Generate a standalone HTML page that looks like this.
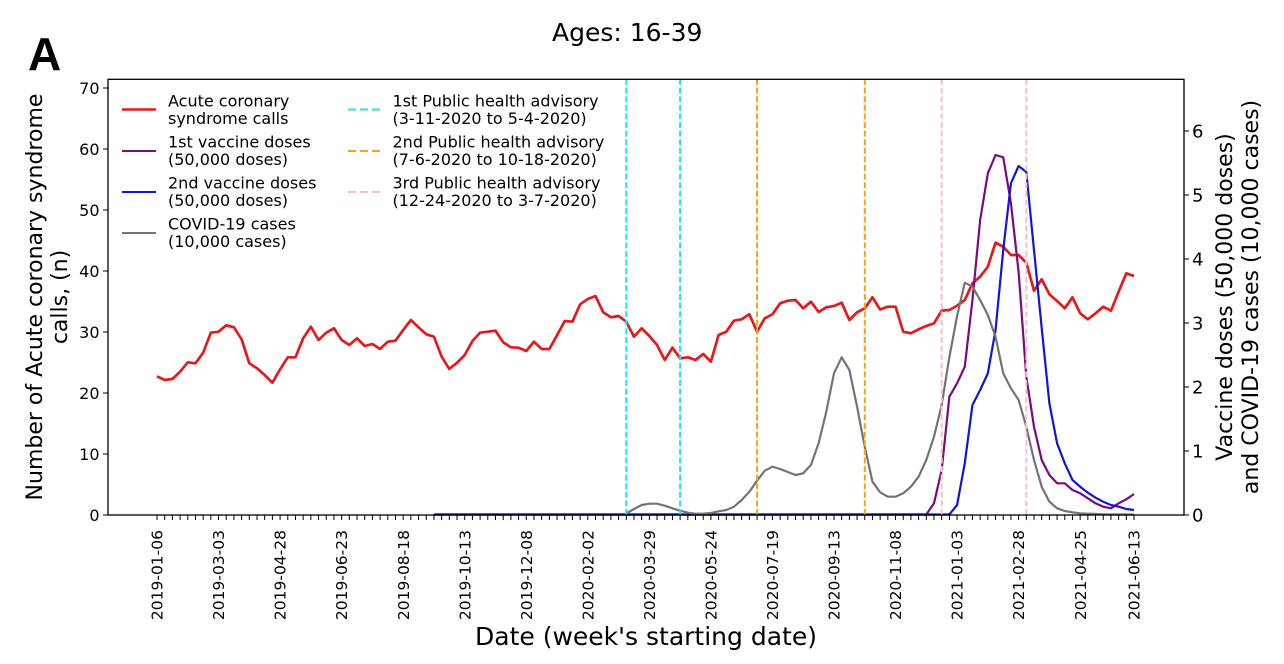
<!DOCTYPE html>
<html>
<head>
<meta charset="utf-8">
<style>
html,body{margin:0;padding:0;background:#fff;width:1284px;height:664px;overflow:hidden}
svg{display:block}
text{font-family:"DejaVu Sans","Liberation Sans",sans-serif;fill:#000}
.nss{vector-effect:non-scaling-stroke}
</style>
</head>
<body>
<svg width="1284" height="664" viewBox="0 0 1284 664" xmlns="http://www.w3.org/2000/svg">
<rect x="0" y="0" width="1284" height="664" fill="#fff"/>

<!-- Panel letter and title -->
<text x="28" y="70" style="font-family:'Liberation Sans',sans-serif;font-weight:bold;font-size:46px">A</text>
<text x="552" y="41" style="font-size:25px">Ages: 16-39</text>

<!-- Data series (week-indexed) -->
<g transform="translate(157,0) scale(7.693,1)" fill="none" stroke-linejoin="round" stroke-linecap="butt">
  <polyline class="nss" stroke="#e31a1c" stroke-width="2.7" points="0,376.3 1,380 2,379 3,371.7 4,362.3 5,363.3 6,352.7 7,332.7 8,331.7 9,325.3 10,327.3 11,339.3 12,363.3 13,368.3 14,375 15,382.7 16,369.3 17,357.3 18,357.3 19,338.3 20,326.7 21,340 22,332.7 23,328.3 24,340 25,345 26,338.3 27,346 28,344 29,349 30,341.7 31,340.7 32,330 33,320 34,327.3 35,334.3 36,336.7 37,356.7 38,369 39,362.7 40,355 41,341 42,332.7 43,331.7 44,330.7 45,342.3 46,347.3 47,347.7 48,351 49,341.7 50,349 51,349 52,335.3 53,321 54,321.7 55,304.3 56,299 57,296 58,312.3 59,317.3 60,316 61,321.7 62,336.7 63,328.3 64,336 65,345 66,360 67,347.7 68,358.3 69,357.3 70,360 71,354 72,361.7 73,335 74,331.7 75,320.7 76,319.3 77,314.3 78,331.7 79,318.3 80,314.3 81,303.3 82,300.7 83,300 84,308.3 85,301.7 86,312 87,307.3 88,306 89,302.7 90,320 91,312.3 92,308.3 93,297.3 94,309.5 95,306.7 96,306.7 97,331.7 98,333.3 99,329.3 100,326 101,323.3 102,310.7 103,310 104,305.7 105,300 106,283.3 107,276.7 108,266.7 109,242.7 110,246.7 111,255 112,255 113,262.7 114,290.7 115,279.3 116,294.3 117,301 118,308.3 119,297.3 120,313.3 121,319.3 122,313.3 123,306.7 124,310.7 125,291.7 126,273.3 127,276"/>
  <polyline class="nss" stroke="#7a0a7a" stroke-width="2.2" points="36,514.5 100,514.5 101,503.3 102,470 103,396.7 104,383.3 105,366.7 106,300 107,220 108,173.3 109,155 110,157.3 111,203 112,272 113,376.7 114,426.7 115,460 116,475 117,483.3 118,483.3 119,490 120,493.3 121,498.3 122,503.3 123,506.7 124,508.3 125,503.3 126,499.3 127,494"/>
  <polyline class="nss" stroke="#1414d6" stroke-width="2.2" points="36,514.5 103,514.5 104,505 105,463.3 106,405 107,390 108,373.3 109,330 110,250 111,183.3 112,166 113,172 114,250 115,328 116,403.3 117,443.3 118,463.3 119,480 120,486.7 121,492.7 122,497.7 123,501.7 124,505 125,506.7 126,509 127,510"/>
  <polyline class="nss" stroke="#737373" stroke-width="2.2" points="61,513.5 62,509 63,505 64,503.7 65,503.7 66,505.7 67,508.3 68,510.7 69,512.7 70,513.7 71,513.7 72,513 73,511.3 74,510 75,506.7 76,500 77,491.7 78,480.7 79,470.7 80,466.7 81,469 82,472 83,475 84,473.3 85,465 86,443.3 87,411.7 88,373.3 89,357.3 90,370 91,406.7 92,446.7 93,481.7 94,492.3 95,496.7 96,496.7 97,493.3 98,486.7 99,476.7 100,460 101,436.7 102,405 103,357 104,316 105,282.7 106,286.7 107,300 108,315 109,336.7 110,373.3 111,388.3 112,400 113,426.7 114,460 115,486.7 116,501.7 117,508.3 118,511 119,512.3 120,513.3 121,513.7 122,514 123,514.3 124,514.5 125,514.5 126,514.5 127,514.5"/>
  <!-- weekly x ticks -->
  <path class="nss" stroke="#000" stroke-width="1" d="M0 515v5M1 515v5M2 515v5M3 515v5M4 515v5M5 515v5M6 515v5M7 515v5M8 515v5M9 515v5M10 515v5M11 515v5M12 515v5M13 515v5M14 515v5M15 515v5M16 515v5M17 515v5M18 515v5M19 515v5M20 515v5M21 515v5M22 515v5M23 515v5M24 515v5M25 515v5M26 515v5M27 515v5M28 515v5M29 515v5M30 515v5M31 515v5M32 515v5M33 515v5M34 515v5M35 515v5M36 515v5M37 515v5M38 515v5M39 515v5M40 515v5M41 515v5M42 515v5M43 515v5M44 515v5M45 515v5M46 515v5M47 515v5M48 515v5M49 515v5M50 515v5M51 515v5M52 515v5M53 515v5M54 515v5M55 515v5M56 515v5M57 515v5M58 515v5M59 515v5M60 515v5M61 515v5M62 515v5M63 515v5M64 515v5M65 515v5M66 515v5M67 515v5M68 515v5M69 515v5M70 515v5M71 515v5M72 515v5M73 515v5M74 515v5M75 515v5M76 515v5M77 515v5M78 515v5M79 515v5M80 515v5M81 515v5M82 515v5M83 515v5M84 515v5M85 515v5M86 515v5M87 515v5M88 515v5M89 515v5M90 515v5M91 515v5M92 515v5M93 515v5M94 515v5M95 515v5M96 515v5M97 515v5M98 515v5M99 515v5M100 515v5M101 515v5M102 515v5M103 515v5M104 515v5M105 515v5M106 515v5M107 515v5M108 515v5M109 515v5M110 515v5M111 515v5M112 515v5M113 515v5M114 515v5M115 515v5M116 515v5M117 515v5M118 515v5M119 515v5M120 515v5M121 515v5M122 515v5M123 515v5M124 515v5M125 515v5M126 515v5M127 515v5"/>
</g>

<!-- Vertical advisory lines -->
<g fill="none" stroke-width="2" stroke-dasharray="6 2.6">
  <line x1="626.3" y1="515" x2="626.3" y2="79.5" stroke="#22e3ec"/>
  <line x1="680.1" y1="515" x2="680.1" y2="79.5" stroke="#22e3ec"/>
  <line x1="757.1" y1="515" x2="757.1" y2="79.5" stroke="#f5a316"/>
  <line x1="864.8" y1="515" x2="864.8" y2="79.5" stroke="#f5a316"/>
  <line x1="941.7" y1="515" x2="941.7" y2="79.5" stroke="#f6c0ca"/>
  <line x1="1026.3" y1="515" x2="1026.3" y2="79.5" stroke="#f6c0ca"/>
</g>

<!-- Axes frame -->
<rect x="108" y="79.3" width="1076" height="435.7" fill="none" stroke="#000" stroke-width="1.3"/>

<!-- Left y ticks -->
<g stroke="#000" stroke-width="1">
  <line x1="103" y1="515" x2="108" y2="515"/>
  <line x1="103" y1="454" x2="108" y2="454"/>
  <line x1="103" y1="393" x2="108" y2="393"/>
  <line x1="103" y1="332" x2="108" y2="332"/>
  <line x1="103" y1="271" x2="108" y2="271"/>
  <line x1="103" y1="210" x2="108" y2="210"/>
  <line x1="103" y1="149" x2="108" y2="149"/>
  <line x1="103" y1="88" x2="108" y2="88"/>
</g>
<g style="font-size:16px" text-anchor="end">
  <text x="99.5" y="520.8">0</text>
  <text x="99.5" y="459.8">10</text>
  <text x="99.5" y="398.8">20</text>
  <text x="99.5" y="337.8">30</text>
  <text x="99.5" y="276.8">40</text>
  <text x="99.5" y="215.8">50</text>
  <text x="99.5" y="154.8">60</text>
  <text x="99.5" y="93.8">70</text>
</g>

<!-- Right y ticks -->
<g stroke="#000" stroke-width="1">
  <line x1="1184" y1="515" x2="1189" y2="515"/>
  <line x1="1184" y1="451" x2="1189" y2="451"/>
  <line x1="1184" y1="387" x2="1189" y2="387"/>
  <line x1="1184" y1="323" x2="1189" y2="323"/>
  <line x1="1184" y1="259" x2="1189" y2="259"/>
  <line x1="1184" y1="195" x2="1189" y2="195"/>
  <line x1="1184" y1="131" x2="1189" y2="131"/>
</g>
<g style="font-size:18px">
  <text x="1192" y="521.5">0</text>
  <text x="1192" y="457.5">1</text>
  <text x="1192" y="393.5">2</text>
  <text x="1192" y="329.5">3</text>
  <text x="1192" y="265.5">4</text>
  <text x="1192" y="201.5">5</text>
  <text x="1192" y="137.5">6</text>
</g>

<!-- X tick labels -->
<g style="font-size:15.5px" text-anchor="end">
  <text transform="translate(157,530) rotate(-90)" dy="0.36em">2019-01-06</text>
  <text transform="translate(218.5,530) rotate(-90)" dy="0.36em">2019-03-03</text>
  <text transform="translate(280.1,530) rotate(-90)" dy="0.36em">2019-04-28</text>
  <text transform="translate(341.6,530) rotate(-90)" dy="0.36em">2019-06-23</text>
  <text transform="translate(403.2,530) rotate(-90)" dy="0.36em">2019-08-18</text>
  <text transform="translate(464.7,530) rotate(-90)" dy="0.36em">2019-10-13</text>
  <text transform="translate(526.3,530) rotate(-90)" dy="0.36em">2019-12-08</text>
  <text transform="translate(587.8,530) rotate(-90)" dy="0.36em">2020-02-02</text>
  <text transform="translate(649.4,530) rotate(-90)" dy="0.36em">2020-03-29</text>
  <text transform="translate(710.9,530) rotate(-90)" dy="0.36em">2020-05-24</text>
  <text transform="translate(772.4,530) rotate(-90)" dy="0.36em">2020-07-19</text>
  <text transform="translate(834,530) rotate(-90)" dy="0.36em">2020-09-13</text>
  <text transform="translate(895.5,530) rotate(-90)" dy="0.36em">2020-11-08</text>
  <text transform="translate(957.1,530) rotate(-90)" dy="0.36em">2021-01-03</text>
  <text transform="translate(1018.6,530) rotate(-90)" dy="0.36em">2021-02-28</text>
  <text transform="translate(1080.2,530) rotate(-90)" dy="0.36em">2021-04-25</text>
  <text transform="translate(1134,530) rotate(-90)" dy="0.36em">2021-06-13</text>
</g>

<!-- Axis labels -->
<text x="646" y="645" text-anchor="middle" style="font-size:25px">Date (week's starting date)</text>
<g style="font-size:22px" text-anchor="middle">
  <text transform="translate(42,297) rotate(-90)">Number of Acute coronary syndrome</text>
  <text transform="translate(67,297) rotate(-90)">calls, (n)</text>
  <text transform="translate(1232,297) rotate(-90)">Vaccine doses (50,000 doses)</text>
  <text transform="translate(1258,297) rotate(-90)">and COVID-19 cases (10,000 cases)</text>
</g>

<!-- Legend -->
<g fill="none">
  <line x1="122" y1="109.5" x2="156" y2="109.5" stroke="#e31a1c" stroke-width="2.5"/>
  <line x1="122" y1="151" x2="156" y2="151" stroke="#7a0a7a" stroke-width="2"/>
  <line x1="122" y1="192" x2="156" y2="192" stroke="#1414d6" stroke-width="2"/>
  <line x1="122" y1="233" x2="156" y2="233" stroke="#737373" stroke-width="2"/>
  <line x1="348" y1="109.5" x2="382" y2="109.5" stroke="#22e3ec" stroke-width="2" stroke-dasharray="8 4"/>
  <line x1="348" y1="151" x2="382" y2="151" stroke="#f5a316" stroke-width="2" stroke-dasharray="8 4"/>
  <line x1="348" y1="192" x2="382" y2="192" stroke="#f6c0ca" stroke-width="2" stroke-dasharray="8 4"/>
</g>
<g style="font-size:16px">
  <text x="168" y="106.5">Acute coronary</text>
  <text x="168" y="124">syndrome calls</text>
  <text x="168" y="147.5">1st vaccine doses</text>
  <text x="168" y="165">(50,000 doses)</text>
  <text x="168" y="188.5">2nd vaccine doses</text>
  <text x="168" y="206">(50,000 doses)</text>
  <text x="168" y="229.5">COVID-19 cases</text>
  <text x="168" y="247">(10,000 cases)</text>
  <text x="392.5" y="106.5">1st Public health advisory</text>
  <text x="392.5" y="124">(3-11-2020 to 5-4-2020)</text>
  <text x="392.5" y="147.5">2nd Public health advisory</text>
  <text x="392.5" y="165">(7-6-2020 to 10-18-2020)</text>
  <text x="392.5" y="188.5">3rd Public health advisory</text>
  <text x="392.5" y="206">(12-24-2020 to 3-7-2020)</text>
</g>
</svg>
</body>
</html>
